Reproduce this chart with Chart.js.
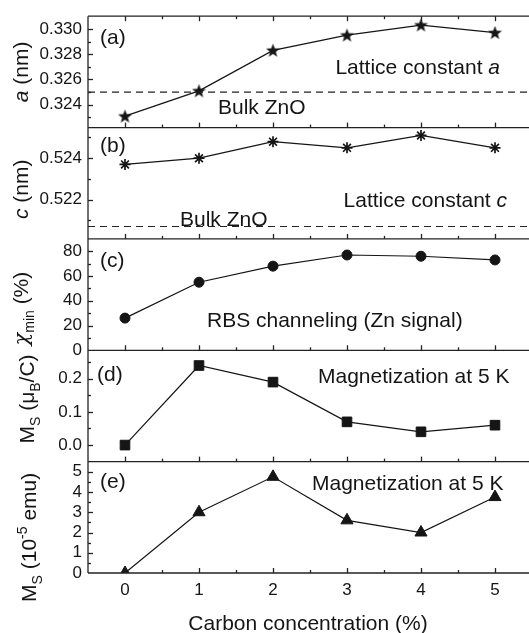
<!DOCTYPE html>
<html>
<head>
<meta charset="utf-8">
<script src="https://cdn.jsdelivr.net/npm/chart.js@4/dist/chart.umd.min.js"></script>
<style>
  html, body { margin: 0; padding: 0; background: #fff; overflow: hidden; }
  #wrap { width: 529px; height: 633px; overflow: hidden; }
</style>
</head>
<body>
<div id="wrap"><canvas id="plot" width="540" height="633"></canvas></div>
<script>
// data
var carbon = [0, 1, 2, 3, 4, 5];
var latticeA = [0.3231, 0.3251, 0.3283, 0.3295, 0.3303, 0.3297];
var latticeC = [0.5237, 0.5240, 0.5248, 0.5245, 0.5251, 0.5245];
var chiMin = [26, 55, 68, 77, 76, 73];
var msPerC = [0, 0.24, 0.19, 0.07, 0.04, 0.06];
var msEmu = [0, 3.0, 4.75, 2.6, 2.0, 3.75];
var bulkA = 0.3250;
var bulkC = 0.5207;
var xRange = [-0.5, 5.5];

// tick labels
var xLabels = ['0', '1', '2', '3', '4', '5'];
var aLabels = ['0.324', '0.326', '0.328', '0.330'];
var cLabels = ['0.522', '0.524'];
var chiLabels = ['0', '20', '40', '60', '80'];
var msLabels = ['0.0', '0.1', '0.2'];
var emuLabels = ['0', '1', '2', '3', '4', '5'];

var FONT = 'Liberation Sans, Arial, sans-serif';
var INK = '#151515';

function labelFor(v, labels, step) {
  for (var i = 0; i < labels.length; i++) {
    if (Math.abs(parseFloat(labels[i]) - v) < step * 0.01) return labels[i];
  }
  return '';
}

function yAxis(weight, min, max, step, labels) {
  return {
    type: 'linear', position: 'left', stack: 'panels', stackWeight: 1, weight: weight,
    min: min, max: max,
    grid: { display: false, drawTicks: false },
    border: { display: false },
    afterFit: function (s) { s.width = 88; },
    ticks: {
      stepSize: step, includeBounds: false, autoSkip: false, padding: 6,
      color: INK, font: { family: FONT, size: 17 },
      callback: function (v) { return labelFor(v, labels, step); }
    }
  };
}

// filled five point star for panel (a)
var starImg = document.createElement('canvas');
starImg.width = 15; starImg.height = 15;
(function () {
  var c = starImg.getContext('2d');
  c.beginPath();
  for (var i = 0; i < 10; i++) {
    var r = i % 2 ? 3 : 7.3;
    var ang = -Math.PI / 2 + i * Math.PI / 5;
    var px = 7.5 + r * Math.cos(ang), py = 8 + r * Math.sin(ang);
    if (i === 0) c.moveTo(px, py); else c.lineTo(px, py);
  }
  c.closePath();
  c.fillStyle = INK;
  c.fill();
})();

function series(values, axis, style, radius) {
  return {
    data: carbon.map(function (c, i) { return { x: c, y: values[i] }; }),
    yAxisID: axis, borderColor: INK, borderWidth: 1.2,
    pointStyle: style, pointRadius: radius,
    pointBackgroundColor: INK, pointBorderColor: INK, pointBorderWidth: style === 'star' ? 1.7 : 1,
    tension: 0, fill: false
  };
}

function bulk(value, axis) {
  return {
    data: xRange.map(function (x) { return { x: x, y: value }; }),
    yAxisID: axis, borderColor: '#222', borderWidth: 1.2, borderDash: [7, 5],
    pointRadius: 0, fill: false
  };
}

var panelIds = ['ya', 'yb', 'yc', 'yd', 'ye'];

// text: [text, style] runs; style: italic / greek / sub / sup
var notes = [
  { axis: 'ya', x: 100, y: 20, runs: [['(a)']] },
  { axis: 'ya', x: 500, y: 50, right: true, runs: [['Lattice constant '], ['a', 'italic']] },
  { axis: 'ya', x: 218, y: 90, runs: [['Bulk ZnO']] },
  { axis: 'yb', x: 100, y: 17, runs: [['(b)']] },
  { axis: 'yb', x: 507, y: 72, right: true, runs: [['Lattice constant '], ['c', 'italic']] },
  { axis: 'yb', x: 180, y: 91, runs: [['Bulk ZnO']] },
  { axis: 'yc', x: 100, y: 21, runs: [['(c)']] },
  { axis: 'yc', x: 207, y: 81, runs: [['RBS channeling (Zn signal)']] },
  { axis: 'yd', x: 97, y: 23, runs: [['(d)']] },
  { axis: 'yd', x: 318, y: 25, runs: [['Magnetization at 5 K']] },
  { axis: 'ye', x: 100, y: 19, runs: [['(e)']] },
  { axis: 'ye', x: 312, y: 21, runs: [['Magnetization at 5 K']] }
];

var yTitles = [
  { axis: 'ya', bx: 28, dy: 0, runs: [['a', 'italic'], [' (nm)']] },
  { axis: 'yb', bx: 28, dy: 6, runs: [['c', 'italic'], [' (nm)']] },
  { axis: 'yc', bx: 28, dy: 14, runs: [['\u03c7', 'greek'], ['min', 'sub'], [' (%)']] },
  { axis: 'yd', bx: 34, dy: -7, runs: [['M'], ['S', 'sub'], [' (\u03bc'], ['B', 'sub'], ['/C)']] },
  { axis: 'ye', bx: 36, dy: 20, runs: [['M'], ['S', 'sub'], [' (10'], ['-5', 'sup'], [' emu)']] }
];

function runFont(style, size) {
  if (style === 'greek') return 'italic ' + size + 'px DejaVu Serif, serif';
  var small = style === 'sub' || style === 'sup';
  return (style === 'italic' ? 'italic ' : '') + (small ? Math.round(size * 0.66) : size) + 'px ' + FONT;
}

function runsWidth(ctx, runs, size) {
  var w = 0;
  runs.forEach(function (r) { ctx.font = runFont(r[1], size); w += ctx.measureText(r[0]).width; });
  return w;
}

function drawRuns(ctx, runs, x, y, size) {
  runs.forEach(function (r) {
    ctx.font = runFont(r[1], size);
    var dy = r[1] === 'sub' ? size * 0.28 : r[1] === 'sup' ? -size * 0.42 : 0;
    ctx.fillText(r[0], x, y + dy);
    x += ctx.measureText(r[0]).width;
  });
}

var framePlugin = {
  id: 'frame',
  afterDraw: function (chart) {
    var ctx = chart.ctx, area = chart.chartArea, xs = chart.scales.x;
    function seg(x1, y1, x2, y2) { ctx.beginPath(); ctx.moveTo(x1, y1); ctx.lineTo(x2, y2); ctx.stroke(); }
    ctx.save();
    ctx.strokeStyle = '#222';
    ctx.lineWidth = 1.3;
    seg(area.left, area.top, area.left, area.bottom);
    seg(area.left, area.top, area.right, area.top);
    panelIds.forEach(function (id) {
      var s = chart.scales[id];
      seg(area.left, s.bottom, area.right, s.bottom);
      s.ticks.forEach(function (t) {
        if (t.value <= s.min || t.value >= s.max) return;
        var py = Math.round(s.getPixelForValue(t.value)) + 0.5;
        seg(area.left, py, area.left + (t.label ? 5 : 3), py);
      });
      xs.ticks.forEach(function (t) {
        if (t.value <= xs.min || t.value >= xs.max) return;
        var px = Math.round(xs.getPixelForValue(t.value)) + 0.5;
        var len = t.label ? 5 : 3;
        seg(px, s.bottom, px, s.bottom - len);
        if (id === 'ya') seg(px, s.top, px, s.top + len);
      });
    });

    ctx.fillStyle = INK;
    ctx.textBaseline = 'alphabetic';
    ctx.textAlign = 'left';
    notes.forEach(function (n) {
      var s = chart.scales[n.axis];
      var w = runsWidth(ctx, n.runs, 21);
      var x0 = n.right ? n.x - w : n.x;
      drawRuns(ctx, n.runs, x0, s.top + n.y + 7.5, 21);
    });

    yTitles.forEach(function (t) {
      var s = chart.scales[t.axis];
      var cy = (s.top + s.bottom) / 2 + t.dy;
      var w = runsWidth(ctx, t.runs, 21);
      ctx.save();
      ctx.translate(t.bx, cy);
      ctx.rotate(-Math.PI / 2);
      drawRuns(ctx, t.runs, -w / 2, 0, 21);
      ctx.restore();
    });

    ctx.font = '21px ' + FONT;
    ctx.textAlign = 'center';
    ctx.fillText('Carbon concentration (%)', 308, 630);
    ctx.restore();
  }
};

new Chart(document.getElementById('plot').getContext('2d'), {
  type: 'line',
  data: {
    datasets: [
      bulk(bulkA, 'ya'),
      bulk(bulkC, 'yb'),
      series(latticeA, 'ya', starImg, 7),
      series(latticeC, 'yb', 'star', 5.5),
      series(chiMin, 'yc', 'circle', 5),
      series(msPerC, 'yd', 'rect', 6.8),
      series(msEmu, 'ye', 'triangle', 7)
    ]
  },
  options: {
    responsive: false,
    animation: false,
    layout: { padding: { top: 12, right: 3, left: 0, bottom: 0 } },
    plugins: { legend: { display: false }, tooltip: { enabled: false } },
    scales: {
      x: {
        type: 'linear', position: 'bottom', min: xRange[0], max: xRange[1],
        grid: { display: false, drawTicks: false },
        border: { display: false },
        afterFit: function (s) { s.height = 60; },
        ticks: {
          stepSize: 0.5, includeBounds: false, autoSkip: false, maxRotation: 0, padding: 7,
          color: INK, font: { family: FONT, size: 17 },
          callback: function (v) { return labelFor(v, xLabels, 0.5); }
        }
      },
      ya: yAxis(5, 0.3222, 0.3310, 0.001, aLabels),
      yb: yAxis(4, 0.5201, 0.52548, 0.001, cLabels),
      yc: yAxis(3, 0, 90, 10, chiLabels),
      yd: yAxis(2, -0.05, 0.286, 0.05, msLabels),
      ye: yAxis(1, 0, 5.5, 0.5, emuLabels)
    }
  },
  plugins: [framePlugin]
});
</script>
</body>
</html>
